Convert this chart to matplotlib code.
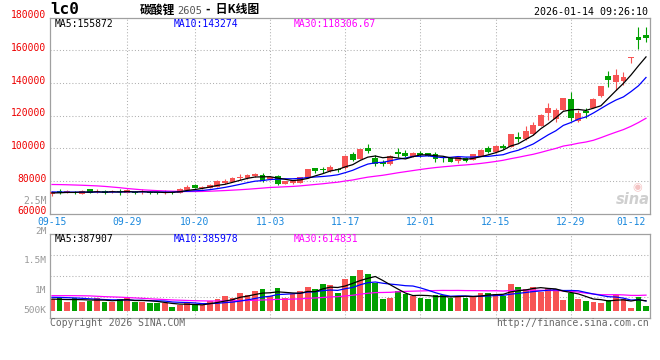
import matplotlib
matplotlib.use('Agg')
import matplotlib.pyplot as plt
import matplotlib.transforms as mtransforms
import numpy as np

# ---------------- data ----------------
dates = ['09-15','09-16','09-17','09-18','09-19','09-22','09-23','09-24','09-25','09-26',
         '09-29','09-30','10-09','10-10','10-13','10-14','10-15','10-16','10-17','10-20',
         '10-21','10-22','10-23','10-24','10-27','10-28','10-29','10-30','10-31','11-03',
         '11-04','11-05','11-06','11-07','11-10','11-11','11-12','11-13','11-14','11-17',
         '11-18','11-19','11-20','11-21','11-24','11-25','11-26','11-27','11-28','12-01',
         '12-02','12-03','12-04','12-05','12-08','12-09','12-10','12-11','12-12','12-15',
         '12-16','12-17','12-18','12-19','12-22','12-23','12-24','12-25','12-26','12-29',
         '12-30','12-31','01-05','01-06','01-07','01-08','01-09','01-12','01-13','01-14']

open_ = [71950, 73780, 72380, 73350, 72130, 74820, 72990, 73780, 73170, 73780,
         72740, 73350, 72870, 73350, 73100, 72380, 73100, 72380, 74400, 77270,
         75440, 75800, 76420, 78860, 79480, 81740, 81920, 82780, 83760, 80940,
         82960, 78250, 78500, 78860, 81920, 87680, 87250, 86210, 87430, 87680,
         96430, 93370, 99920, 94160, 91300, 90490, 97840, 96860, 94590, 96860,
         96860, 96240, 94780, 94160, 92330, 94160, 92760, 95200, 99920, 97470,
         101320, 100900, 107020, 105610, 108670, 113560, 121340, 117850, 123360, 130090,
         116810, 122740, 124760, 131920, 144350, 140680, 141290, 155300, 167850, 169260]
high = [73480, 75010, 74090, 73970, 74090, 75190, 74820, 74210, 74400, 74820,
        74820, 73780, 75190, 73600, 73350, 74400, 73480, 75620, 77460, 77760,
        76840, 78070, 80210, 80940, 82350, 84000, 84000, 84980, 84620, 82960,
        83390, 80090, 80520, 82350, 87250, 88040, 88660, 89700, 88040, 95630,
        97470, 99670, 102550, 95820, 92570, 95820, 99920, 98880, 97470, 98450,
        97040, 97470, 95390, 94590, 95390, 94590, 96610, 99300, 101330, 101750,
        102550, 108970, 109710, 113560, 116200, 120720, 127460, 124760, 130700, 134190,
        123360, 124400, 130700, 138350, 147220, 148450, 146430, 155610, 174340, 174340]
low = [70420, 71760, 72250, 71760, 71950, 72380, 72560, 71950, 72380, 71340,
       72560, 71950, 71950, 71950, 71950, 71950, 71640, 72250, 74090, 75440,
       75010, 75620, 76230, 78070, 79290, 80520, 80940, 82170, 79480, 80520,
       77460, 77880, 78070, 78680, 81740, 84980, 84980, 85230, 85600, 87430,
       92140, 93180, 96860, 89270, 89270, 89700, 94780, 94410, 94290, 94410,
       95200, 91720, 91720, 91530, 90740, 91720, 92570, 95020, 96860, 97230,
       99490, 100710, 103960, 105000, 108060, 113380, 117240, 116200, 123170, 116810,
       116320, 118280, 124580, 131500, 137620, 135600, 138660, 151940, 160690, 165160]
close = [72990, 72740, 73780, 72380, 73780, 72740, 73970, 72380, 73780, 72870,
         74400, 72380, 73480, 72380, 72700, 72990, 72600, 75190, 76420, 75800,
         76420, 77270, 80090, 79720, 81920, 82540, 83390, 84190, 80090, 82540,
         78250, 79720, 80090, 82170, 87060, 86020, 86450, 88290, 86640, 95390,
         92760, 99490, 98260, 90120, 90120, 95200, 96240, 95390, 96860, 95820,
         95390, 93370, 93800, 91720, 94780, 92140, 96240, 98880, 97470, 101320,
         100280, 108670, 105610, 110690, 114180, 120300, 124400, 123360, 130520, 118640,
         121700, 121340, 130090, 138040, 141720, 144780, 143740, 155610, 166380, 167600]

ma5 = [72600, 72700, 72900, 72900, 73130, 73080, 73330, 73050, 73330, 73150,
       73480, 73160, 73380, 73100, 73130, 72840, 72970, 73310, 74120, 74680,
       75360, 76220, 77200, 77860, 79080, 80310, 81530, 82350, 82430, 82550,
       81690, 80960, 80140, 80550, 81460, 83010, 84360, 86000, 86890, 88560,
       89910, 92510, 94510, 95200, 94150, 94640, 93990, 93410, 94760, 95900,
       95940, 95370, 95050, 94020, 93810, 93160, 93740, 94750, 95900, 97210,
       98840, 101320, 102670, 105310, 107890, 111890, 115040, 118590, 122550, 123440,
       123720, 123110, 124460, 125960, 130580, 135190, 139670, 144780, 150450, 155872]
ma10 = [73200, 73150, 73100, 73100, 73050, 73050, 73100, 73100, 73100, 73140,
        73280, 73250, 73220, 73220, 73140, 73160, 73060, 73350, 73610, 73900,
        74100, 74590, 75250, 75990, 76880, 77840, 78880, 79780, 80140, 80820,
        81000, 81250, 81250, 81490, 82000, 82350, 82660, 83070, 83720, 85010,
        86460, 88440, 90250, 91050, 91350, 92270, 93250, 93960, 94980, 95030,
        95290, 94680, 94230, 94390, 94860, 94550, 94550, 94900, 94960, 95510,
        96000, 97530, 98710, 100610, 102550, 105360, 108180, 110630, 113930, 115670,
        117810, 119070, 121520, 124260, 127010, 129460, 131390, 134620, 138200, 143274]
ma30 = [77750, 77700, 77600, 77450, 77300, 77100, 76900, 76600, 76200, 75800,
        75300, 74900, 74500, 74250, 74000, 73800, 73650, 73550, 73450, 73450,
        73500, 73650, 73850, 74050, 74300, 74550, 74850, 75200, 75550, 75950,
        76130, 76360, 76570, 76900, 77340, 77780, 78200, 78730, 79160, 79910,
        80520, 81430, 82250, 82840, 83410, 84150, 84930, 85600, 86280, 86950,
        87580, 88120, 88580, 88980, 89410, 89730, 90150, 90640, 91220, 91850,
        92580, 93550, 94400, 95350, 96250, 97400, 98660, 99830, 101290, 102070,
        103030, 103760, 104820, 106420, 108140, 109790, 111380, 113380, 115700, 118307]

# volume, in thousands of lots
vol_k = [448, 527, 356, 487, 356, 382, 514, 356, 356, 461,
         487, 356, 356, 316, 316, 290, 158, 224, 290, 263,
         224, 382, 461, 579, 514, 711, 619, 777, 856, 579,
         896, 514, 659, 790, 948, 856, 1054, 1014, 711, 1251,
         1370, 1607, 1449, 1080, 461, 514, 777, 659, 579, 514,
         461, 619, 619, 514, 579, 514, 579, 711, 711, 659,
         579, 1054, 948, 856, 948, 751, 896, 856, 421, 685,
         461, 395, 342, 303, 421, 619, 461, 105, 553, 198]
vma5_k = [460, 450, 440, 440, 435, 422, 419, 419, 393, 414,
          435, 403, 403, 395, 366, 327, 287, 261, 256, 245,
          232, 277, 324, 382, 432, 529, 577, 640, 695, 708,
          745, 724, 701, 688, 761, 753, 861, 932, 917, 977,
          1080, 1191, 1278, 1351, 1193, 1022, 856, 698, 598, 609,
          598, 566, 558, 545, 558, 569, 561, 579, 619, 635,
          648, 743, 790, 819, 877, 911, 880, 861, 774, 722,
          664, 564, 461, 437, 384, 416, 429, 382, 432, 387.907]
vma10_k = [530, 525, 515, 505, 490, 470, 455, 440, 430, 424,
           428, 411, 411, 394, 390, 381, 345, 332, 325, 306,
           279, 282, 292, 319, 339, 381, 427, 482, 539, 570,
           637, 651, 670, 692, 735, 749, 793, 817, 802, 869,
           917, 1026, 1105, 1134, 1085, 1051, 1023, 988, 975, 901,
           810, 711, 628, 572, 584, 584, 564, 569, 582, 597,
           608, 652, 685, 719, 756, 780, 811, 826, 797, 799,
           788, 722, 661, 606, 553, 540, 496, 421, 435, 385.978]
vma30_k = [595, 595, 595, 593, 590, 585, 570, 555, 545, 535,
           520, 505, 490, 470, 455, 440, 425, 415, 405, 395,
           388, 385, 385, 388, 392, 398, 405, 413, 423, 433,
           448, 448, 458, 468, 488, 504, 522, 544, 555, 582,
           611, 653, 689, 715, 720, 727, 748, 762, 772, 780,
           788, 796, 801, 799, 801, 795, 793, 791, 786, 789,
           778, 796, 806, 808, 808, 805, 799, 794, 785, 766,
           735, 695, 658, 632, 631, 634, 624, 605, 604, 614.831]

price_ticks = [60000, 80000, 100000, 120000, 140000, 160000, 180000]
price_labels = ['60000', '80000', '100000', '120000', '140000', '160000', '180000']
vol_labels = ['2M', '1.5M', '1M', '500K']
date_labels = ['09-15', '09-29', '10-20', '11-03', '11-17', '12-01', '12-15', '12-29', '01-12']
ma_price_text = ['MA5:155872', 'MA10:143274', 'MA30:118306.67']
ma_vol_text = ['MA5:387907', 'MA10:385978', 'MA30:614831']
title_parts = ['碳酸锂', '2605', '-  日K线图']
symbol = 'lc0'
stamp = '2026-01-14 09:26:10'

# ---------------- styling ----------------
RED = '#F75454'
GREEN = '#00A000'
GRID = '#B0B0B0'
SPINE = '#A0A0A0'
DATEC = '#1A88DD'
MONO = 'DejaVu Sans Mono'
CJK = ['Noto Sans CJK SC', 'DejaVu Sans']

W, H = 660, 360
fig = plt.figure(figsize=(W / 100, H / 100), dpi=100)
fig.patch.set_facecolor('white')

def fx(px):
    return px / W

def fy(py):
    return 1 - py / H

L, R = 50, 649.5
P_TOP, P_BOT = 17.5, 213.5
V_TOP, V_BOT = 234.3, 318.3
ax_p = fig.add_axes([fx(L), fy(P_BOT), fx(R) - fx(L), fy(P_TOP) - fy(P_BOT)])
ax_v = fig.add_axes([fx(L), fy(V_BOT), fx(R) - fx(L), fy(V_TOP) - fy(V_BOT)])

step = 7.519
x = np.arange(len(dates))
xmin = -2.0 / step
xmax = xmin + (R - L) / step

o = np.array(open_, float)
h = np.array(high, float)
lo = np.array(low, float)
c = np.array(close, float)
up = c >= o
cols = np.where(up, RED, GREEN)

dot = (0, (1, 2))

for ax in (ax_p, ax_v):
    ax.set_xlim(xmin, xmax)
    for sp in ax.spines.values():
        sp.set_color(SPINE)
        sp.set_linewidth(0.9)
    ax.set_facecolor('white')

# grid positions (dates)
tick_idx = [dates.index(d) for d in date_labels]
for ax in (ax_p, ax_v):
    for i in tick_idx[1:-1]:
        ax.axvline(i, color=GRID, lw=0.75, ls=dot, zorder=0)

# ---- price panel ----
ax_p.set_ylim(price_ticks[0], price_ticks[-1])
for v in price_ticks[1:-1]:
    ax_p.axhline(v, color=GRID, lw=0.75, ls=dot, zorder=0)
ax_p.vlines(x, lo, h, colors=cols, lw=0.8, zorder=2)
body = np.maximum(np.abs(c - o), 450)
ax_p.bar(x, body, bottom=np.minimum(o, c), width=0.78, color=cols, lw=0, zorder=3)
ax_p.plot(x, ma30, color='#FF00FF', lw=0.9, zorder=4)
ax_p.plot(x, ma10, color='#0000FF', lw=0.9, zorder=4)
ax_p.plot(x, ma5, color='#000000', lw=0.9, zorder=4)

ax_p.set_yticks([])
blend = mtransforms.blended_transform_factory(ax_p.transAxes, ax_p.transData)
off = mtransforms.ScaledTranslation(0, 2.0 / 100, fig.dpi_scale_trans)
for v, s in zip(price_ticks, price_labels):
    ax_p.text(-0.006, v, s, transform=blend + off, ha='right', va='center',
              fontsize=7, family=MONO, color='#EE0000', clip_on=False)

ax_p.set_xticks(tick_idx)
ax_p.set_xticklabels(date_labels)
ax_p.tick_params(axis='x', length=0, pad=2.6, labelsize=7, labelcolor=DATEC)
for t in ax_p.get_xticklabels():
    t.set_family(MONO)

# watermark
fig.text(fx(637), fy(187), '◉', fontsize=8, color='#F4C4C4', ha='center', va='center',
         family='DejaVu Sans')
fig.text(fx(633), fy(199), 'sina', fontsize=10.5, style='italic', weight='bold',
         color='#CFCFCF', ha='center', va='center', family='DejaVu Sans')

# ---- volume panel ----
vol = np.array(vol_k) * 1000
vmin_, vmax_ = -300000, 3018000
ax_v.set_ylim(vmin_, vmax_)
for k in (1, 2, 3):
    ax_v.axhline(vmin_ + k * (vmax_ - vmin_) / 4, color=GRID, lw=0.75, ls=dot, zorder=0)
ax_v.bar(x, vol, width=0.76, color=cols, lw=0, zorder=2)
ax_v.plot(x, np.array(vma30_k) * 1000, color='#FF00FF', lw=0.9, zorder=3)
ax_v.plot(x, np.array(vma10_k) * 1000, color='#0000FF', lw=0.9, zorder=3)
ax_v.plot(x, np.array(vma5_k) * 1000, color='#000000', lw=0.9, zorder=3)
ax_v.set_xticks([])
ax_v.set_yticks([])

vol_label_y = [231.0, 260.5, 290.5, 310.5]
for s, py in zip(vol_labels, vol_label_y):
    fig.text(fx(46.5), fy(py), s, ha='right', va='center', fontsize=6.8,
             family=MONO, color='#999999')
fig.text(fx(46.5), fy(200.7), '2.5M', ha='right', va='center', fontsize=7,
         family=MONO, color='#999999')

# ---- header & legends ----
fig.text(fx(50), fy(9.5), symbol, ha='left', va='center', fontsize=11.5,
         family=MONO, weight='bold', color='black')
fig.text(fx(140), fy(10), title_parts[0], ha='left', va='center', fontsize=8.5,
         family=CJK, weight='bold', color='black')
fig.text(fx(177), fy(10.5), title_parts[1], ha='left', va='center', fontsize=7.5,
         family=MONO, color='#555555')
fig.text(fx(206), fy(10), title_parts[2], ha='left', va='center', fontsize=8.5,
         family=CJK, weight='bold', color='black')
fig.text(fx(648), fy(12.3), stamp, ha='right', va='center', fontsize=7.2,
         family=MONO, color='black')

ma_cols = ['#000000', '#0000FF', '#FF00FF']
ma_x = [55, 174, 294]
for s, cc, px in zip(ma_price_text, ma_cols, ma_x):
    fig.text(fx(px), fy(24), s, ha='left', va='center', fontsize=7, family=MONO, color=cc)
for s, cc, px in zip(ma_vol_text, ma_cols, ma_x):
    fig.text(fx(px), fy(238.5), s, ha='left', va='center', fontsize=7, family=MONO, color=cc)

fig.text(fx(50), fy(323.5), 'Copyright 2026 SINA.COM', ha='left', va='center',
         fontsize=7, family=MONO, color='#666666')
fig.text(fx(649), fy(323.5), 'http://finance.sina.com.cn', ha='right', va='center',
         fontsize=7, family=MONO, color='#666666')

fig.savefig('out.png', dpi=100, facecolor='white')
